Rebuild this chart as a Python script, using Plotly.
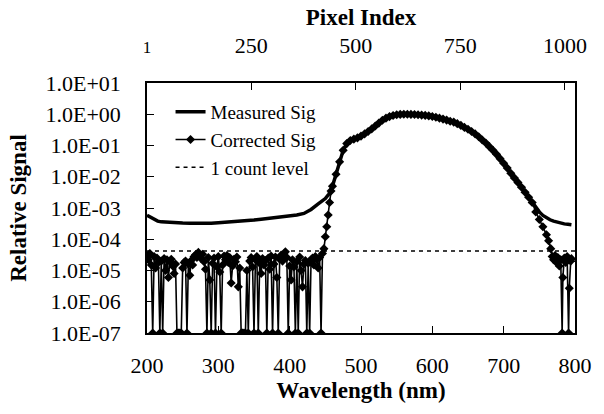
import numpy as np
import plotly.graph_objects as go

# ---------------- data ----------------
# Measured signal (wavelength nm, relative signal)
meas_wl = [200, 205, 210, 215, 220, 230, 240, 250, 260, 270, 280, 290, 300, 310, 320,
           330, 340, 350, 360, 370, 380, 390, 400, 410, 420, 430, 440, 450, 455, 460,
           465, 470, 475, 480, 485, 490, 495, 500, 505, 510, 515, 520, 525, 530, 535,
           540, 545, 550, 555, 560, 565, 570, 575, 580, 585, 590, 595, 600, 605, 610,
           615, 620, 625, 630, 635, 640, 645, 650, 655, 660, 665, 670, 675, 680, 685,
           690, 695, 700, 705, 710, 715, 720, 725, 730, 735, 740, 745, 750, 755, 760,
           765, 770, 775, 780, 785, 790, 795]
meas_sig = [5.9e-4, 5.0e-4, 4.3e-4, 3.8e-4, 3.6e-4, 3.45e-4, 3.35e-4, 3.3e-4, 3.25e-4, 3.2e-4,
            3.2e-4, 3.25e-4, 3.35e-4, 3.45e-4, 3.6e-4, 3.75e-4, 3.9e-4, 4.1e-4, 4.35e-4, 4.6e-4,
            4.9e-4, 5.2e-4, 5.5e-4, 6.0e-4, 6.7e-4, 9.0e-4, 1.35e-3, 2.0e-3, 2.8e-3, 5.0e-3,
            1.2e-2, 3.0e-2, 7.0e-2, 0.115, 0.145, 0.16, 0.175, 0.20, 0.235, 0.28,
            0.34, 0.42, 0.52, 0.64, 0.75, 0.84, 0.91, 0.96, 0.99, 1.0,
            1.0, 0.99, 0.98, 0.96, 0.94, 0.92, 0.89, 0.85, 0.80, 0.75,
            0.70, 0.65, 0.60, 0.56, 0.50, 0.44, 0.38, 0.33, 0.28, 0.235,
            0.19, 0.15, 0.12, 0.092, 0.07, 0.052, 0.038, 0.027, 0.019, 0.013,
            0.0092, 0.0066, 0.0046, 0.0032, 0.0022, 0.0015, 1.05e-3, 7.5e-4, 5.8e-4, 4.8e-4,
            4.2e-4, 3.8e-4, 3.5e-4, 3.3e-4, 3.1e-4, 3.0e-4, 2.9e-4]

# Corrected signal, low (noisy) part: 200..458 nm, step 2 nm, values in units of 1e-5
corr_low_wl = list(range(200, 460, 2))
corr_low_e5 = [3.0, 2.2, 3.5, 1.5, 0, 2.8, 1.2, 2.5, 1.8, 0,
               2.0, 0, 2.4, 1.0, 2.2, 0.6, 1.9, 2.3, 1.4, 0.8,
               1.6, 0, 0, 0, 0, 1.2, 1.8, 2.0, 0, 1.6,
               0.7, 2.1, 1.5, 2.8, 3.2, 2.6, 3.8, 3.0, 2.4, 3.3,
               1.9, 1.1, 0, 2.6, 0.5, 0, 1.7, 2.5, 0, 1.3,
               2.8, 0.9, 0, 1.5, 2.9, 2.2, 3.0, 1.8, 2.6, 0.4,
               1.4, 2.3, 1.9, 2.7, 0.3, 1.2, 0, 0, 0, 0,
               1.0, 0, 2.0, 2.6, 1.3, 0, 2.2, 2.8, 0, 1.7,
               0.8, 2.4, 1.5, 2.1, 0, 2.5, 1.1, 2.9, 0, 1.6,
               2.7, 0.6, 0, 2.3, 3.1, 2.0, 3.4, 4.0, 2.6, 0,
               1.4, 0.5, 2.2, 1.3, 0, 1.9, 0, 2.7, 1.0, 0.3,
               1.6, 2.1, 0, 1.7, 0, 2.2, 2.5, 1.5, 2.8, 2.3,
               1.2, 2.6, 0, 3.5, 5.0, 12, 25, 60, 150, 350]
# Corrected signal, tail after the main band (745..795 nm)
corr_tail_wl = [745, 750, 755, 760, 763, 766, 768, 770, 772, 774, 776, 778, 780, 782,
                783, 785, 787, 789, 791, 792, 794, 795]
corr_tail = [7.5e-4, 4.3e-4, 2.5e-4, 1.4e-4, 9.0e-5, 5.0e-5, 2.8e-5, 2.2e-5, 3.0e-5, 1.8e-5,
             2.6e-5, 1.4e-5, 2.2e-5, 0, 6.0e-6, 2.5e-5, 1.8e-5, 2.8e-5, 0, 2.7e-6, 2.0e-5, 2.4e-5]

count_level = 4.2e-5
count_wl = [200, 800]

pixel_ticks = [1, 250, 500, 750, 1000]
pixel_range = [1, 1024]
wl_ticks = [200, 300, 400, 500, 600, 700, 800]
y_tickvals = [1e-7, 1e-6, 1e-5, 1e-4, 1e-3, 1e-2, 1e-1, 1e0, 1e1]
y_ticktext = ["1.0E-07", "1.0E-06", "1.0E-05", "1.0E-04", "1.0E-03",
              "1.0E-02", "1.0E-01", "1.0E+00", "1.0E+01"]

# ---------------- build corrected series ----------------
main_mask = [(w >= 460 and w <= 740) for w in meas_wl]
corr_wl = corr_low_wl + [w for w, m in zip(meas_wl, main_mask) if m] + corr_tail_wl
corr_sig = [v * 1e-5 for v in corr_low_e5] + \
           [s for s, m in zip(meas_sig, main_mask) if m] + corr_tail
YMIN = 1e-7
corr_plot = [v if v > 0 else YMIN for v in corr_sig]   # non-positive values sit on the axis floor

FONT = "Liberation Serif"

fig = go.Figure()
fig.add_trace(go.Scatter(x=meas_wl, y=meas_sig, mode="lines", name="Measured Sig",
                         line=dict(color="black", width=3.5)))
fig.add_trace(go.Scatter(x=corr_wl, y=corr_plot, mode="lines+markers", name="Corrected Sig",
                         line=dict(color="black", width=1.6),
                         marker=dict(symbol="diamond", size=7, color="black")))
fig.add_trace(go.Scatter(x=count_wl, y=[count_level] * len(count_wl), mode="lines",
                         name="1 count level",
                         line=dict(color="black", width=1.5, dash="4px,4px")))
# top pixel axis carrier
fig.add_trace(go.Scatter(x=pixel_range, y=[None, None], xaxis="x2", mode="lines",
                         showlegend=False, hoverinfo="skip"))

fig.update_layout(
    width=604, height=414,
    margin=dict(l=147, r=17, t=83, b=81),
    paper_bgcolor="white", plot_bgcolor="white",
    font=dict(family=FONT, size=22, color="black"),
    showlegend=True,
    legend=dict(x=0.055, y=0.96, xanchor="left", yanchor="top",
                bgcolor="rgba(0,0,0,0)", font=dict(size=19, family=FONT),
                tracegroupgap=0, itemwidth=30),
    xaxis=dict(range=[200, 800], tickvals=wl_ticks, ticks="inside", ticklen=7,
               tickwidth=1.2, tickcolor="black", showline=True, linecolor="black",
               linewidth=1.5, mirror=True, showgrid=False, zeroline=False,
               ticklabelstandoff=12,
               title=dict(text="<b>Wavelength (nm)</b>", font=dict(size=23), standoff=4)),
    xaxis2=dict(range=pixel_range, overlaying="x", side="top", tickvals=pixel_ticks,
                ticktext=['<span style="font-size:17px">1</span>', "250", "500", "750", "1000"],
                ticks="inside", ticklen=7, tickwidth=1.2, tickcolor="black",
                showline=False, showgrid=False, zeroline=False, ticklabelstandoff=25,
                title=dict(text="<b>Pixel Index</b>", font=dict(size=23), standoff=0)),
    yaxis=dict(type="log", range=[-7, 1], tickvals=y_tickvals, ticktext=y_ticktext,
               ticks="inside", ticklen=7, tickwidth=1.2, tickcolor="black",
               showline=True, linecolor="black", linewidth=1.5, mirror=True,
               showgrid=False, zeroline=False, ticklabelstandoff=20,
               title=dict(text="<b>Relative Signal</b>", font=dict(size=23), standoff=12)),
)

fig.write_html("out.html")
